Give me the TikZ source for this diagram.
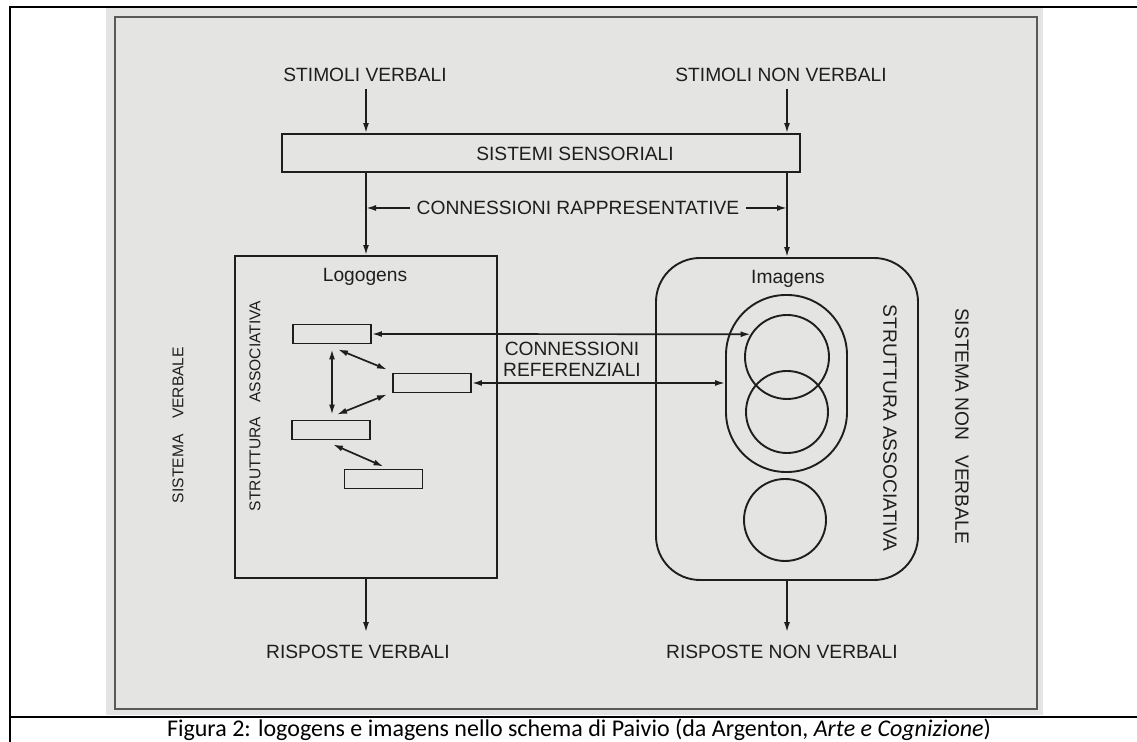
\documentclass[tikz,border=0pt]{standalone}
\usepackage{fontspec}
\usepackage{xcolor}
\usepackage{tikz}
\usetikzlibrary{positioning,arrows.meta}
\usetikzlibrary{calc}
\newfontfamily\diagfont{Liberation Sans}
\newfontfamily\capfont{Carlito}
\definecolor{scangray}{RGB}{228,228,226}
\definecolor{ink}{RGB}{30,30,30}

\begin{document}
\begin{tikzpicture}[
  x = 0.5pt, y = -0.5pt,
  every node/.style = {font=\diagfont\fontsize{9.6}{10.5}\selectfont, text=ink},
  box/.style   = {draw=ink, line width=0.95pt, inner sep=0pt},
  tiny/.style  = {box, minimum width=39pt, minimum height=9.5pt},
  ring/.style  = {box, circle, minimum size=42pt},
  side/.style  = {font=\diagfont\fontsize{7.8}{9}\selectfont, rotate=90},
  ar/.style    = {-{Latex[length=5pt,width=3pt]}, line width=0.85pt, draw=ink},
  dar/.style   = {{Latex[length=5pt,width=3pt]}-{Latex[length=5pt,width=3pt]},
                  line width=0.85pt, draw=ink}
]

\useasboundingbox (0,0) rectangle (1137,742);
\draw[line width=1.1pt] (10,742) -- (10,7) -- (1137,7);
\draw[line width=1.1pt] (10,717) -- (1137,717);
\fill[scangray] (106,8) rectangle (1043,715);
\draw[gray!70!black, line width=0.7pt] (115,17) rectangle (1037,709);

\node (stimv)  at (365,75) {STIMOLI VERBALI};
\node (stimnv) at (781,75) {STIMOLI NON VERBALI};

\node[box, minimum width=259pt, minimum height=19pt] (sens) at (541,153) {};
\node (senslbl) at (575,154) {SISTEMI SENSORIALI};

\node (rapp) at (578,208) {CONNESSIONI RAPPRESENTATIVE};

\node[box, minimum width=131pt, minimum height=161pt] (verbale) at (366,417) {};
\node[box, rounded corners=22pt, minimum width=131pt, minimum height=161pt] (nonverb) at (787,419) {};

\node (logo) at (365,277) {Logogens};
\node (imag) at (788,279) {Imagens};

\draw[ar] (stimv.south -| verbale.north) -- (sens.north -| verbale.north);
\draw[ar] (sens.south -| verbale.north) -- (verbale.north);
\draw[ar] (stimnv.south -| nonverb.north) -- (sens.north -| nonverb.north);
\draw[ar] (sens.south -| nonverb.north) -- (nonverb.north);
\draw[ar] (rapp.west) -- (rapp.west -| verbale.north);
\draw[ar] (rapp.east) -- (rapp.east -| nonverb.north);

\node[side] (strv) at (255,406) {STRUTTURA\hspace{0.9em}ASSOCIATIVA};
\node[side] (sisv) at (178,425) {SISTEMA\hspace{1em}VERBALE};
\node[rotate=-90] (strnv) at (890,428) {STRUTTURA ASSOCIATIVA};
\node[rotate=-90] (sisnv) at (962,426) {SISTEMA NON\hspace{0.5em} VERBALE};

\node[tiny] (rectA) at (332,334) {};
\node[tiny] (rectB) at (432,383) {};
\node[tiny] (rectC) at (331,430) {};
\node[tiny] (rectD) at (383.5,479) {};

\draw[dar] ([yshift=-2.5pt]rectA.south) -- ([yshift=2.5pt]rectA.south |- rectC.north);
\draw[dar] ([xshift=3pt,yshift=-2.5pt]rectA.south) -- ([xshift=-2.5pt,yshift=1.5pt]rectB.north west);
\draw[dar] ([xshift=3pt,yshift=2.5pt]rectC.north) -- ([xshift=-2.5pt,yshift=-0.5pt]rectB.south west);
\draw[dar] ([xshift=1pt,yshift=-2pt]rectC.south) -- ([yshift=1pt]rectD.north);

\node[box, rounded corners=30pt, minimum width=60.5pt, minimum height=88.5pt] (pair) at (786.5,383.5) {};
\node[ring] (img1) at (787,357) {};
\node[ring, minimum size=41pt] (img2) at (787,412) {};
\node[ring, minimum size=41pt] (img3) at (785,520) {};

\node[align=center] (refz) at (572,359) {CONNESSIONI\\REFERENZIALI};

\draw[dar] (rectA.east) -- (img1.148);
\draw[dar] (rectB.east) -- (rectB.east -| pair.west);

\node (rispv)  at (358,652) {RISPOSTE VERBALI};
\node (rispnv) at (782,652) {RISPOSTE NON VERBALI};

\draw[ar, shorten >=3pt] (verbale.south) -- (verbale.south |- rispv.north);
\draw[ar, shorten >=3pt] (nonverb.south) -- (nonverb.south |- rispnv.north);

\node[font=\capfont\fontsize{12}{13}\selectfont, text=black, inner sep=0pt] (cap) at (579,730)
  {Figura 2: logogens e imagens nello schema di Paivio (da Argenton, \textit{Arte e Cognizione})};

\end{tikzpicture}
\end{document}
